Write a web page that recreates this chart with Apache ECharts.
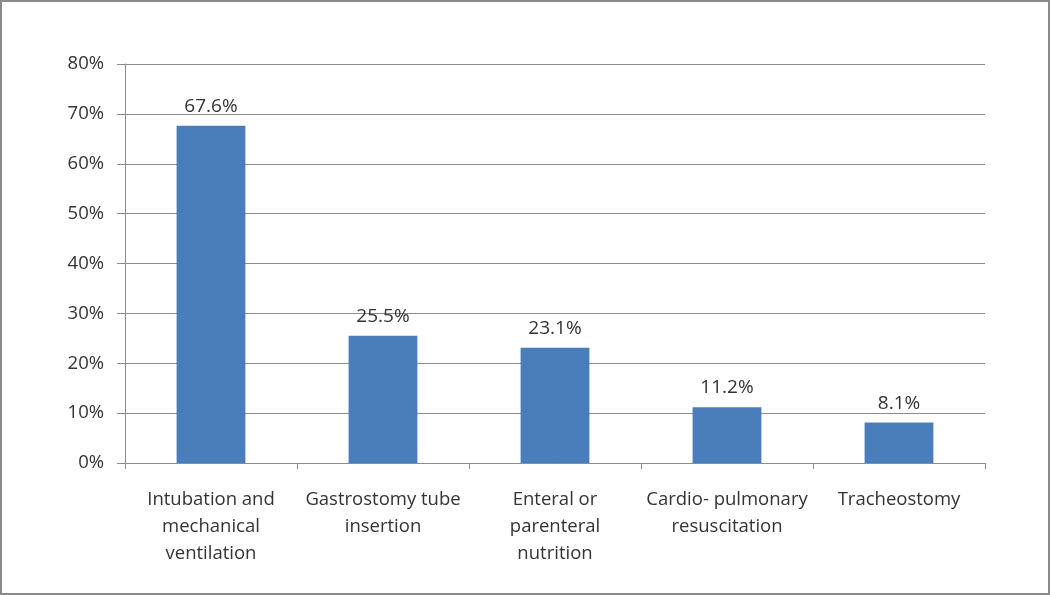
<!DOCTYPE html>
<html>
<head>
<meta charset="utf-8">
<script src="https://cdn.jsdelivr.net/npm/echarts@6/dist/echarts.min.js"></script>
<style>
  html, body { margin: 0; padding: 0; background: #fff; }
  #chart { width: 1050px; height: 595px; box-sizing: border-box; border: 2px solid #8a8a8a; }
</style>
</head>
<body>
<div id="chart"></div>
<script>
  const categories = [
    'Intubation and\nmechanical\nventilation',
    'Gastrostomy tube\ninsertion',
    'Enteral or\nparenteral\nnutrition',
    'Cardio- pulmonary\nresuscitation',
    'Tracheostomy'
  ]
  const percentages = [67.6, 25.5, 23.1, 11.2, 8.1]

  const font = 'Open Sans, Noto Sans, sans-serif'
  const myChart = echarts.init(document.getElementById('chart'))
  const option = {
    animation: false,
    grid: { left: 123, right: 63, top: 62, bottom: 130, containLabel: false },
    xAxis: {
      type: 'category',
      data: categories,
      axisLine: { lineStyle: { color: '#8c8c8c', width: 1 } },
      axisTick: { show: true, length: 6, lineStyle: { color: '#8c8c8c' } },
      axisLabel: {
        color: '#333', fontSize: 18.5, fontFamily: font,
        lineHeight: 27, margin: 23, interval: 0
      }
    },
    yAxis: {
      type: 'value',
      min: 0, max: 80, interval: 10,
      axisLine: { show: true, lineStyle: { color: '#8c8c8c' } },
      axisTick: { show: true, length: 8, lineStyle: { color: '#8c8c8c' } },
      axisLabel: {
        color: '#333', fontSize: 18.5, fontFamily: font, margin: 21,
        formatter: v => v + '%'
      },
      splitLine: { lineStyle: { color: '#8c8c8c', width: 1 } }
    },
    series: [{
      type: 'bar',
      data: percentages,
      barWidth: '40%',
      itemStyle: { color: '#4a7ebb' },
      label: {
        show: true, position: 'top', distance: 10,
        color: '#333', fontSize: 19, fontFamily: font,
        formatter: p => p.value.toFixed(1) + '%'
      }
    }]
  }
  myChart.setOption(option)
</script>
</body>
</html>
